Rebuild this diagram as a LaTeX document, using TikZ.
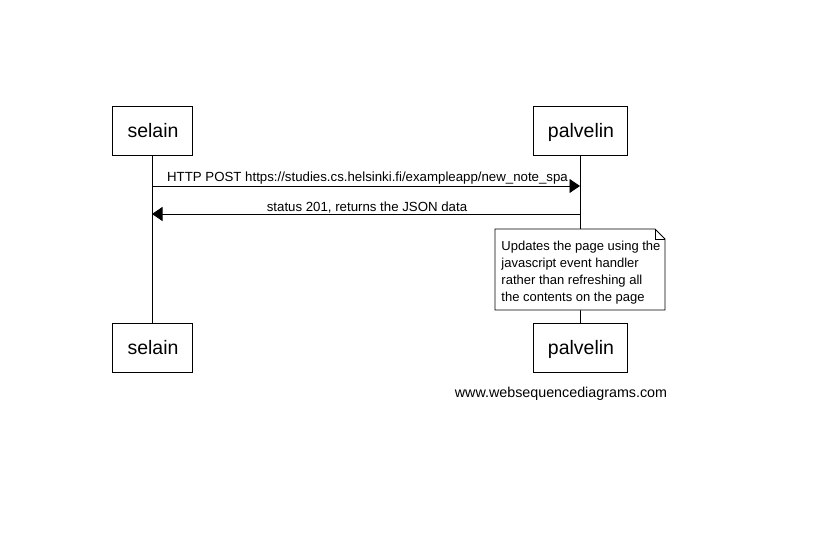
\documentclass[tikz,border=0pt]{standalone}
\usepackage{fontspec}
\setmainfont{Liberation Sans}
\usetikzlibrary{arrows.meta}

\begin{document}
\begin{tikzpicture}[x=1pt, y=-1pt, line width=0.9pt,
    actor/.style={draw, minimum width=80pt, minimum height=49pt, inner sep=0pt,
      font=\fontsize{19.5}{22}\selectfont, text height=14pt, text depth=0pt},
    msg/.style={-{Triangle[length=10.5pt,width=14pt]}},
    msgtext/.style={anchor=base, inner sep=0pt, font=\fontsize{13.25}{15}\selectfont},
    notetext/.style={anchor=north west, inner sep=0pt, align=left,
      font=\fontsize{13}{17}\selectfont}]
    \useasboundingbox (0,0) rectangle (823,551);

    \begin{scope}
      \node[actor] (selainTop) at (152,130.5) {\hspace{2pt}selain};
      \node[actor] (selainBot) at (152,347.5) {\hspace{2pt}selain};
      \draw (selainTop) -- (selainBot);
    \end{scope}

    \begin{scope}
      \node[actor, minimum width=94pt] (palvelinTop) at (580,130.5) {\hspace{2pt}palvelin};
      \node[actor, minimum width=94pt] (palvelinBot) at (580,347.5) {\hspace{2pt}palvelin};
      \draw (palvelinTop) -- (palvelinBot);
    \end{scope}

    % messages
    \coordinate (postFrom) at (152,186);
    \coordinate (postTo) at (580,186);
    \draw[msg] (postFrom) -- (postTo);
    \node[msgtext] (postLabel) at (367.5,182) {HTTP POST https://studies.cs.helsinki.fi/exampleapp/new\_note\_spa};

    \coordinate (replyFrom) at (580,214);
    \coordinate (replyTo) at (152,214);
    \draw[msg] (replyFrom) -- (replyTo);
    \node[msgtext] (replyLabel) at (367,211) {status 201, returns the JSON data};

    % note on palvelin
    \draw[fill=white] (495,229) -- (655,229) -- (665,239) -- (665,310) -- (495,310) -- cycle;
    \draw[line width=0.5pt] (655,229) -- (655,239) -- (665,239);
    \node[notetext] (note) at (501,240.5) {Updates the page using the\\javascript event handler\\rather than refreshing all\\the contents on the page};

    \node[anchor=base, inner sep=0pt, font=\fontsize{14.3}{16}\selectfont] (footer) at (561,397) {www.websequencediagrams.com};
\end{tikzpicture}
\end{document}
